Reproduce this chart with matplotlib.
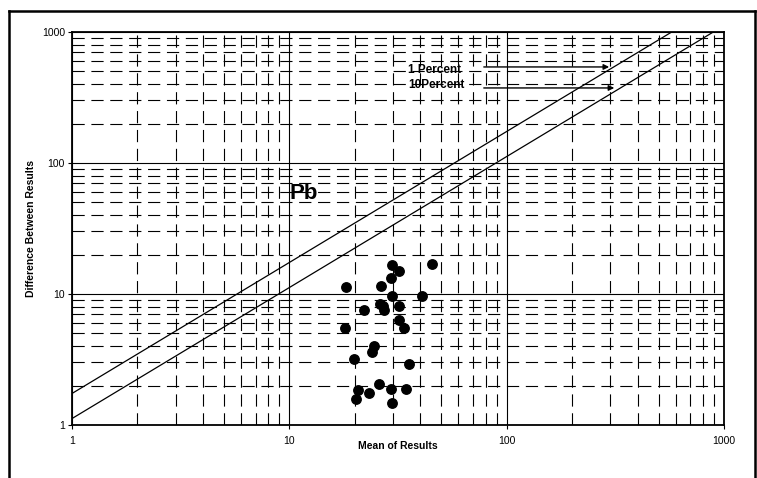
import numpy as np
import matplotlib
matplotlib.use("Agg")
import matplotlib.pyplot as plt
from matplotlib.lines import Line2D
from matplotlib.ticker import FixedLocator, FuncFormatter, LogLocator, NullFormatter

plt.rcParams['font.family'] = ['Liberation Sans', 'DejaVu Sans']

# ---- data ----
mean_results = [29.7, 31.8, 45.4, 29.4, 18.2, 26.3, 29.6, 40.6, 26.0, 27.0,
                27.4, 31.8, 22.0, 32.1, 33.6, 18.1, 24.4, 23.9, 19.9, 35.4,
                25.9, 20.6, 29.3, 34.3, 23.2, 20.2, 29.6]
diff_results = [16.6, 15.1, 16.8, 13.3, 11.3, 11.5, 9.7, 9.7, 8.4, 8.1,
                7.5, 8.1, 7.5, 6.3, 5.5, 5.5, 4.0, 3.6, 3.2, 2.9,
                2.07, 1.86, 1.87, 1.87, 1.77, 1.58, 1.47]
limit_factors = {"1 Percent": 1.74, "10Percent": 1.12}
line_x = [1, 1000]
major_ticks = [1, 10, 100, 1000]
tick_labels = ["1", "10", "100", "1000"]

W, H = 757, 478
fig = plt.figure(figsize=(W / 100, H / 100), dpi=100)
ax = fig.add_axes([72 / W, 1 - 425 / H, 652 / W, 393 / H])
ax.set_xscale('log')
ax.set_yscale('log')
ax.set_xlim(1, 1000)
ax.set_ylim(1, 1000)

# grid
ax.xaxis.set_major_locator(FixedLocator(major_ticks))
ax.yaxis.set_major_locator(FixedLocator(major_ticks))
ax.xaxis.set_minor_locator(LogLocator(base=10, subs=np.arange(2, 10)))
ax.yaxis.set_minor_locator(LogLocator(base=10, subs=np.arange(2, 10)))
ax.xaxis.set_minor_formatter(NullFormatter())
ax.yaxis.set_minor_formatter(NullFormatter())
fmt = FuncFormatter(lambda v, p: tick_labels[major_ticks.index(round(v))] if round(v) in major_ticks else "")
ax.xaxis.set_major_formatter(fmt)
ax.yaxis.set_major_formatter(fmt)
ax.grid(which='major', color='black', linewidth=0.8, linestyle='-')
ax.grid(which='minor', color='black', linewidth=0.8, linestyle=(0, (11, 6)))
ax.set_axisbelow(True)
ax.tick_params(which='major', direction='out', length=3, width=0.8, labelsize=7.5)
ax.tick_params(which='minor', length=0)
ax.tick_params(axis='x', pad=5)
ax.tick_params(axis='y', pad=2)
for s in ax.spines.values():
    s.set_linewidth(1.3)
    s.set_color('black')

# limit lines
for name, k in limit_factors.items():
    ax.plot(line_x, [k * v for v in line_x], color='black', linewidth=0.9, zorder=3)

# data points
ax.plot(mean_results, diff_results, 'o', color='black', markersize=6.8, zorder=4)

# annotations
ax.text(10, 58, "Pb", fontsize=16, fontweight='bold',
        ha='left', va='center', zorder=5)
ax.text(35.2, 513, "1 Percent", fontsize=8.5, fontweight='bold', ha='left', va='center', zorder=5)
ax.text(35.2, 394, "10Percent", fontsize=8.5, fontweight='bold', ha='left', va='center', zorder=5)
ax.annotate("", xy=(305, 541), xytext=(76.2, 541),
            arrowprops=dict(arrowstyle='-|>', color='black', lw=1.0, mutation_scale=8), zorder=5)
ax.annotate("", xy=(322, 374), xytext=(76.2, 374),
            arrowprops=dict(arrowstyle='-|>', color='black', lw=1.0, mutation_scale=8), zorder=5)

ax.set_xlabel("Mean of Results", fontsize=7.5, fontweight='bold')
ax.set_ylabel("Difference Between Results", fontsize=7.5, fontweight='bold')
ax.xaxis.set_label_coords(0.5, -(441 - 425) / 393)
ax.yaxis.set_label_coords(-(72 - 36) / 652, 0.5)

# figure border
bx0, by0 = 9 / W, 1 - 11 / H
bx1 = 755 / W
fig.add_artist(Line2D([bx0, bx0], [0, by0], color='black', linewidth=1.8, transform=fig.transFigure))
fig.add_artist(Line2D([bx0, bx1], [by0, by0], color='black', linewidth=1.8, transform=fig.transFigure))
fig.add_artist(Line2D([bx1, bx1], [0, by0], color='black', linewidth=1.8, transform=fig.transFigure))

fig.savefig("out.png", dpi=100)
